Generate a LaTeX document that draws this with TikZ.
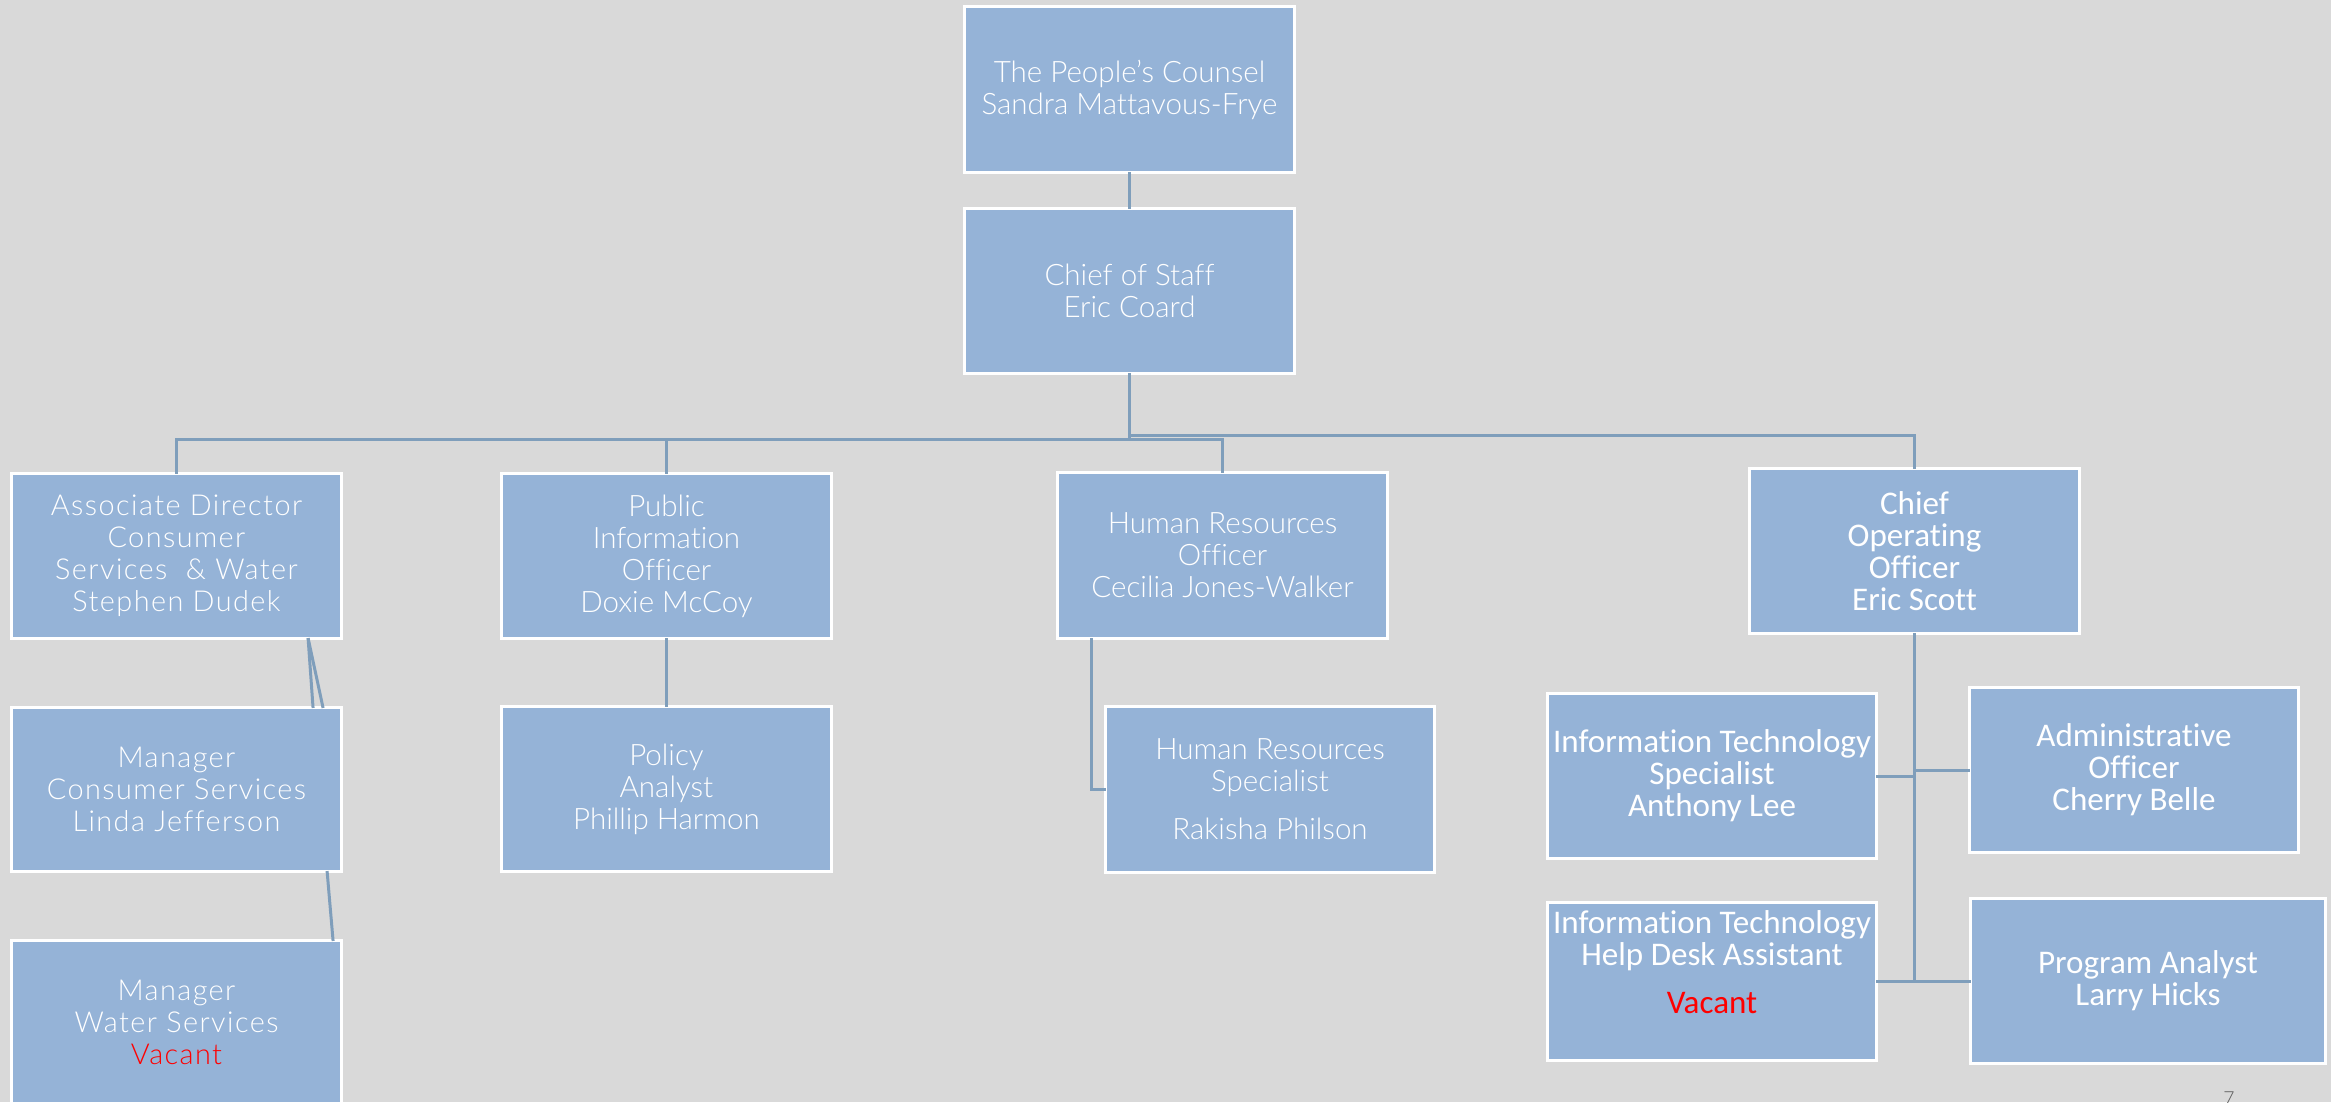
\documentclass[tikz,border=0pt]{standalone}
\usepackage{fontspec}
\setmainfont{Lato Light}[Ligatures=NoCommon]
\newfontfamily\widefont{Lato Light}[LetterSpace=5,Ligatures=NoCommon]
\newfontfamily\condfont{Carlito}[Ligatures=NoCommon]
\definecolor{bg}{HTML}{D9D9D9}
\definecolor{boxfill}{HTML}{95B3D7}
\definecolor{conn}{HTML}{7F9EBB}
\definecolor{vac}{HTML}{FF0000}
\definecolor{pagenum}{HTML}{595959}
\begin{document}
\begin{tikzpicture}[x=0.01cm,y=-0.01cm,
  box/.style={draw=white,line width=0.85pt,fill=boxfill,text=white,align=center,
    inner sep=0pt,outer sep=0pt,minimum width=3.29cm,minimum height=1.64cm,
    font=\fontsize{8.4}{9.1}\selectfont},
  widebox/.style={box,font=\widefont\fontsize{8.2}{9.1}\selectfont},
  condbox/.style={box,font=\condfont\fontsize{9.4}{9.1}\selectfont},
  link/.style={draw=conn,line width=0.85pt},
  vacant/.style={text=vac}]
\fill[bg] (0,0) rectangle (2331,1102);
\useasboundingbox (0,0) rectangle (2331,1102);

% top levels
\node[box,minimum height=1.65cm] (pc) at (1129.5,89.5) {The People’s Counsel\\Sandra Mattavous-Frye};
\node[box] (cos) at (1129.5,291) {Chief of Staff\\Eric Coard};

% second level
\node[widebox] (ad) at (176.5,556) {Associate Director\\Consumer\\Services~ \& Water\\Stephen Dudek};
\node[box] (pio) at (666.5,556) {Public\\Information\\Officer\\Doxie McCoy};
\node[box,minimum height=1.65cm] (hr) at (1222.5,555.5) {Human Resources\\Officer\\Cecilia Jones-Walker};
\node[condbox] (coo) at (1914.5,551) {Chief\\Operating\\Officer\\Eric Scott};

% third level
\node[widebox,minimum height=1.63cm] (mcs) at (176.5,789.5) {Manager\\Consumer Services\\Linda Jefferson};
\node[widebox,minimum height=1.62cm] (mws) at (176.5,1022) {Manager\\Water Services\\\textcolor{vac}{Vacant}};
\node[box] (pa) at (666.5,789) {Policy\\Analyst\\Phillip Harmon};
\node[box,minimum width=3.28cm,minimum height=1.65cm] (hrs) at (1270,789.5) {Human Resources\\Specialist\\[4.5pt]Rakisha Philson};

% COO reports
\node[condbox,minimum width=3.28cm] (its) at (1712,776) {Information Technology\\Specialist\\Anthony Lee};
\node[condbox,minimum width=3.28cm] (ao) at (2134,770) {Administrative\\Officer\\Cherry Belle};
\node[condbox,minimum width=3.28cm,minimum height=1.57cm] (ith) at (1712,981.5) {};
\node[text=white,align=center,inner sep=0pt,font=\condfont\fontsize{9.4}{9.1}\selectfont] (ithtext) at (1712,962)
  {Information Technology\\Help Desk Assistant\\[4.5pt]\textcolor{vac}{Vacant}};
\node[condbox,minimum width=3.54cm] (pan) at (2148,981) {Program Analyst\\Larry Hicks};

% page number
\node[anchor=north,inner sep=0pt,text=pagenum,font=\fontsize{5.5}{6}\selectfont] (pnum) at (2229,1091) {7};

% connectors
\coordinate (bus) at (1129.5,439);
\coordinate (bus2) at (1129.5,435);
\draw[link] (pc.south) -- (cos.north);
\draw[link] (cos.south) -- (bus);
\draw[link] (ad.north) |- (bus) -| (hr.north);
\draw[link] (pio.north) -- (pio.north |- bus);
\draw[link] (bus2) -| (coo.north);
\draw[link] (pio.south) -- (pa.north);
\draw[link] ([xshift=0.34cm]hr.south west) |- (hrs.west);
\draw[link] ([xshift=-0.33cm]ad.south east) -- ([xshift=-0.28cm]mcs.north east);
\draw[link] ([xshift=-0.33cm]ad.south east) -- ([xshift=-0.18cm]mcs.north east);
\draw[link] ([xshift=-0.14cm]mcs.south east) -- ([xshift=-0.08cm]mws.north east);
\coordinate (coobottom) at (1914.5,981);
\draw[link] (coo.south) -- (coobottom);
\draw[link] (its.east) -- (its.east -| coo.south);
\draw[link] (ao.west) -- (ao.west -| coo.south);
\draw[link] (ith.east) -- (ith.east -| coobottom);
\draw[link] (pan.west) -- (pan.west -| coobottom);
\end{tikzpicture}
\end{document}
